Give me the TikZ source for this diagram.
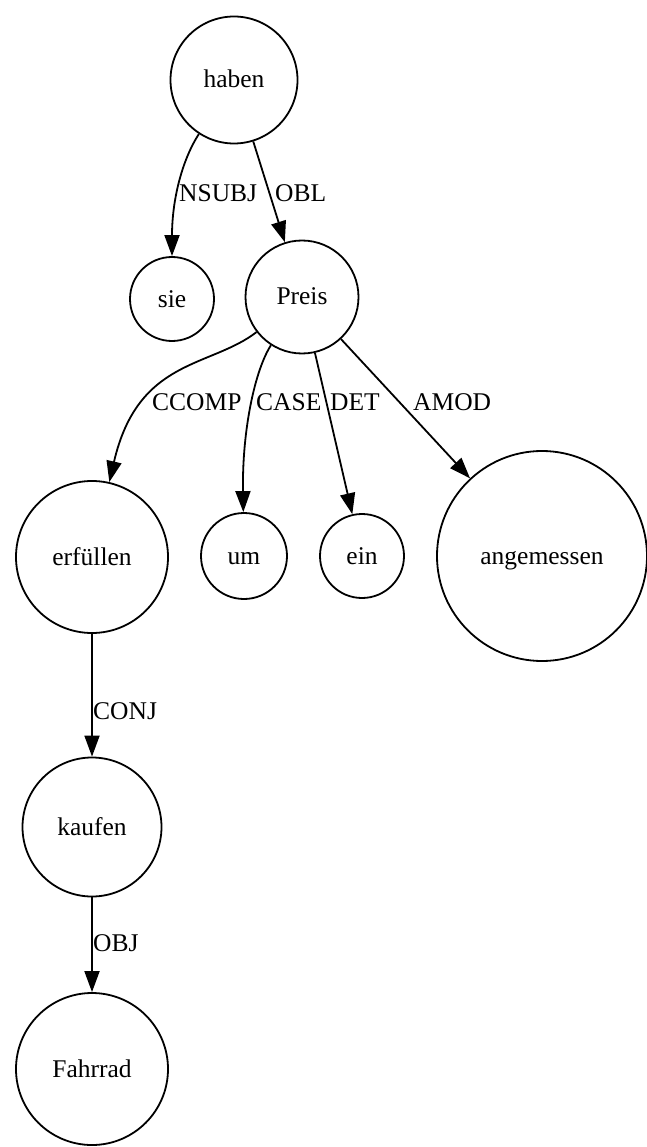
\documentclass[tikz,border=0pt]{standalone}
\usepackage{fontspec}
\setmainfont{Liberation Serif}
\usetikzlibrary{arrows.meta}
\begin{document}
\begin{tikzpicture}[x=1pt,y=-1pt,
  word/.style={circle,draw,line width=1.8pt,inner sep=0pt,text height=18pt,text depth=2pt,font=\fontsize{25.5}{30}\selectfont},
  dep/.style={line width=1.8pt,-{Triangle[length=21pt,width=15pt]}},
  lab/.style={anchor=west,inner sep=0pt,font=\fontsize{25.5}{30}\selectfont}]
\useasboundingbox (0,0) rectangle (646,1147);
% tokens
\node[word,minimum size=127pt] (haben) at (234,80) {haben};
\node[word,minimum size=84pt] (sie) at (172,299) {sie};
\node[word,minimum size=113pt] (Preis) at (302,297) {Preis};
\node[word,minimum size=152pt] (erfuellen) at (92,557) {erfüllen};
\node[word,minimum size=86pt] (um) at (244,556) {um};
\node[word,minimum size=84pt] (ein) at (362,556) {ein};
\node[word,minimum size=210pt] (angemessen) at (542,556) {angemessen};
\node[word,minimum size=139pt] (kaufen) at (92,827) {kaufen};
\node[word,minimum size=152pt] (Fahrrad) at (92,1069) {Fahrrad};
% dependencies
\draw[dep] (haben) .. controls (182,160) and (172,200) .. (sie);
\draw[dep] (haben) -- (Preis);
\draw[dep] (Preis) .. controls (210,368) and (138,358) .. (erfuellen);
\draw[dep] (Preis) .. controls (255,370) and (242,430) .. (um);
\draw[dep] (Preis) -- (ein);
\draw[dep] (Preis) -- (angemessen);
\draw[dep] (erfuellen) -- (kaufen);
\draw[dep] (kaufen) -- (Fahrrad);
% relation labels
\node[lab] (lnsubj) at (179,193) {NSUBJ};
\node[lab] (lobl) at (275,193) {OBL};
\node[lab] (lccomp) at (152,402) {CCOMP};
\node[lab] (lcase) at (256,402) {CASE};
\node[lab] (ldet) at (330,402) {DET};
\node[lab] (lamod) at (413,402) {AMOD};
\node[lab] (lconj) at (93,711) {CONJ};
\node[lab] (lobj) at (93,943) {OBJ};
\end{tikzpicture}
\end{document}
